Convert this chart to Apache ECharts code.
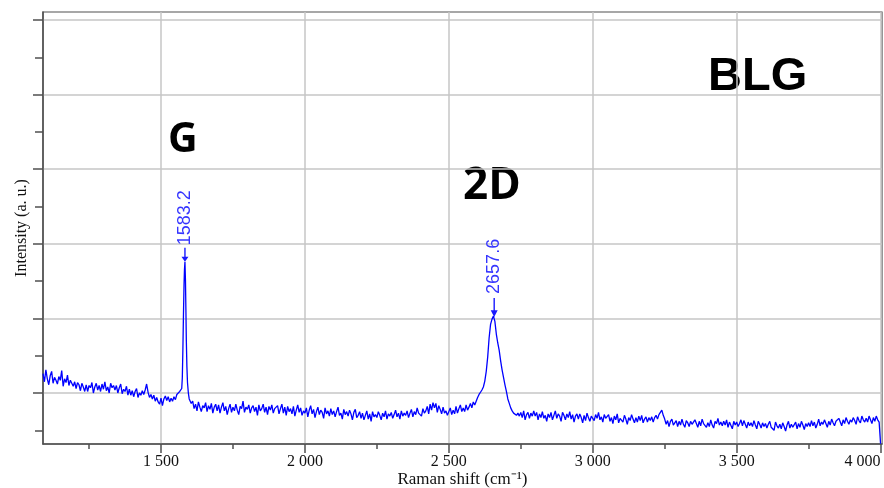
<!DOCTYPE html>
<html><head><meta charset="utf-8">
<script src="https://cdn.jsdelivr.net/npm/echarts@6/dist/echarts.min.js"></script>
<style>html,body{margin:0;padding:0;background:#fff}#c{width:884px;height:488px}</style>
</head><body><div id="c"></div>
<script>
// Axis ranges and ticks
const xMin = 1090, xMax = 4005;
const yMin = -68.4, yMax = 510.7;
const xMajorTicks = [1500, 2000, 2500, 3000, 3500, 4000];
const xMinorTicks = [1250, 1750, 2250, 2750, 3250, 3750];
const yMajorTicks = [0, 100, 200, 300, 400, 500];
const yMinorTicks = [-50, 50, 150, 250, 350, 450];

// Spectrum (Raman shift in cm-1, intensity in arbitrary units)
const stepShift = 5;
const leftStart = 1090; // 1090 .. 1570
const leftVals = [
  26, 15, 31, 19, 11, 23, 29, 13, 21, 17,
  12, 22, 17, 30, 9, 19, 14, 24, 10, 17,
  18, 9, 15, 6, 14, 11, 3, 13, 8, 2,
  11, 2, 10, 7, 14, 0, 8, 13, 4, 10,
  2, 12, 5, 15, 3, 8, 0, 13, 7, 10,
  4, 10, 0, 7, 12, -1, 5, 2, 9, -3,
  5, -3, 3, -5, 2, 6, -6, 0, -3, 3,
  -2, 4, 12, 1, -6, -2, -8, -3, -11, -6,
  -12, -15, -7, -17, -8, -4, -10, -5, -12, -7,
  -11, -5, -9, -2, -1, 2, 4
];
const gShift = [1572, 1574, 1576, 1578, 1580, 1581.5, 1583.2, 1585, 1586.5, 1588, 1590, 1592, 1595, 1598];
const gVals = [6, 20, 58, 105, 145, 165, 176, 150, 112, 70, 35, 14, 0, -8];
const midStart = 1600; // 1600 .. 2595
const midVals = [
  -9, -14, -11, -21, -15, -24, -12, -19, -25, -17,
  -20, -13, -25, -17, -22, -14, -27, -19, -15, -24,
  -16, -27, -19, -13, -24, -18, -29, -21, -15, -26,
  -19, -24, -15, -23, -29, -18, -21, -11, -26, -19,
  -22, -16, -27, -20, -17, -25, -19, -30, -16, -24,
  -21, -15, -26, -19, -29, -18, -23, -16, -27, -21,
  -23, -17, -28, -21, -15, -27, -19, -30, -18, -25,
  -21, -28, -18, -31, -23, -16, -26, -20, -30, -24,
  -27, -20, -32, -23, -17, -28, -22, -33, -25, -19,
  -29, -23, -26, -34, -20, -28, -24, -31, -21, -29,
  -24, -32, -25, -19, -30, -27, -35, -22, -29, -25,
  -31, -23, -28, -36, -26, -22, -33, -30, -25, -34,
  -27, -36, -30, -24, -35, -28, -38, -25, -32, -29,
  -33, -25, -30, -36, -27, -32, -24, -35, -28, -31,
  -26, -34, -29, -23, -32, -27, -35, -24, -31, -27,
  -30, -24, -33, -27, -22, -32, -25, -29, -20, -27,
  -26, -31, -21, -27, -24, -18, -28, -15, -23, -13,
  -20, -14, -26, -17, -22, -28, -19, -27, -24, -30,
  -25, -20, -29, -23, -28, -18, -27, -21, -16, -25,
  -20, -25, -16, -23, -19, -14, -20, -12, -16, -11
];
const dStart = 2600; // 2600 .. 2745
const dVals = [
  -6, -2, 1, 4, 8, 16, 29, 48, 74, 92,
  99, 103, 96, 79, 67, 57, 43, 31, 21, 11,
  2, -8, -14, -20, -24, -27, -25, -30, -27, -31
];
const rightStart = 2750; // 2750 .. 4000
const rightVals = [
  -26, -33, -24, -36, -29, -26, -34, -27, -31, -24,
  -31, -26, -36, -28, -33, -25, -34, -30, -38, -28,
  -33, -26, -36, -30, -24, -34, -28, -31, -38, -26,
  -30, -36, -28, -33, -25, -35, -29, -39, -31, -28,
  -35, -28, -33, -40, -30, -37, -27, -33, -38, -31,
  -30, -37, -29, -34, -26, -36, -32, -39, -29, -34,
  -36, -29, -38, -33, -41, -31, -36, -28, -40, -34,
  -32, -39, -30, -35, -42, -33, -37, -29, -35, -40,
  -33, -39, -31, -37, -30, -40, -35, -32, -39, -33,
  -37, -32, -39, -33, -30, -35, -29, -26, -23, -30,
  -35, -42, -37, -45, -38, -35, -43, -40, -37, -45,
  -38, -43, -35, -42, -46, -37, -40, -45, -38, -42,
  -43, -36, -41, -46, -38, -44, -35, -41, -40, -46,
  -40, -45, -36, -43, -47, -38, -41, -34, -43, -39,
  -44, -38, -43, -36, -46, -39, -41, -48, -38, -43,
  -39, -45, -41, -36, -44, -37, -42, -47, -39, -44,
  -40, -45, -37, -43, -48, -38, -42, -47, -40, -45,
  -41, -47, -42, -38, -46, -44, -50, -39, -44, -47,
  -42, -48, -40, -45, -51, -43, -38, -47, -42, -46,
  -45, -39, -48, -41, -46, -38, -43, -49, -41, -45,
  -40, -45, -37, -44, -39, -47, -42, -35, -44, -39,
  -42, -36, -41, -46, -38, -43, -35, -40, -44, -38,
  -40, -34, -39, -44, -36, -41, -33, -38, -42, -36,
  -39, -33, -37, -42, -32, -37, -40, -31, -36, -39,
  -34, -39, -31, -36, -41, -33, -38, -31, -36, -39,
  -68
];

// Peak annotations
const peakShift = [1583.2, 2657.6];
const peakTop = [176, 102];
const peakText = ['1583.2', '2657.6'];

// Build the series data
const spectrum = [];
leftVals.forEach((v, i) => spectrum.push([leftStart + i * stepShift, v]));
gVals.forEach((v, i) => spectrum.push([gShift[i], v]));
midVals.forEach((v, i) => spectrum.push([midStart + i * stepShift, v]));
dVals.forEach((v, i) => spectrum.push([dStart + i * stepShift, v]));
rightVals.forEach((v, i) => spectrum.push([rightStart + i * stepShift, v]));

const arrowPath = 'path://M4.3,0 L5.7,0 L5.7,13 L8.5,13 L5,20 L1.5,13 L4.3,13 Z';
const arrowSize = [[7, 14], [7, 19]];
const labelShift = [37, 41];

const chart = echarts.init(document.getElementById('c'), null, {renderer: 'canvas'});
const axisColor = '#505050';
const gridColor = '#c6c6c6';
const serif = '"Liberation Serif", "Times New Roman", serif';

chart.setOption({
  animation: false,
  backgroundColor: '#ffffff',
  grid: {left: 43, right: 2, top: 12, bottom: 44, show: true, borderColor: axisColor, borderWidth: 1.2,
    backgroundColor: 'transparent', containLabel: false, outerBoundsMode: 'none'},
  xAxis: [{
    type: 'value', min: xMin, max: xMax,
    axisLine: {show: true, onZero: false, lineStyle: {color: axisColor, width: 1.5}},
    axisTick: {show: true, customValues: xMajorTicks, length: 9, lineStyle: {color: axisColor, width: 1.5}},
    axisLabel: {show: true, customValues: xMajorTicks, margin: 10, color: '#111', fontFamily: serif, fontSize: 16,
      alignMaxLabel: 'right',
      formatter: v => { const s = String(Math.round(v)); return s.length > 3 ? s.slice(0, s.length - 3) + ' ' + s.slice(-3) : s; }},
    splitLine: {show: true, lineStyle: {color: gridColor, width: 1.5}},
    name: 'Raman shift (cm⁻¹)', nameLocation: 'middle', nameGap: 27, nameMoveOverlap: false,
    nameTextStyle: {color: '#111', fontFamily: serif, fontSize: 17}
  }, {
    type: 'value', min: xMin, max: xMax, position: 'bottom', gridIndex: 0,
    axisLine: {show: false, onZero: false},
    axisTick: {show: true, customValues: xMinorTicks, length: 5, lineStyle: {color: axisColor, width: 1.5}},
    axisLabel: {show: false}, splitLine: {show: false}
  }],
  yAxis: [{
    type: 'value', min: yMin, max: yMax,
    axisLine: {show: true, onZero: false, lineStyle: {color: axisColor, width: 1.5}},
    axisTick: {show: true, customValues: yMajorTicks, length: 10, lineStyle: {color: axisColor, width: 1.5}},
    axisLabel: {show: false},
    splitLine: {show: true, lineStyle: {color: gridColor, width: 1.5}},
    name: 'Intensity (a. u.)', nameLocation: 'middle', nameGap: 13, nameRotate: 90, nameMoveOverlap: false,
    nameTextStyle: {color: '#111', fontFamily: serif, fontSize: 16}
  }, {
    type: 'value', min: yMin, max: yMax, position: 'left', gridIndex: 0,
    axisLine: {show: false, onZero: false},
    axisTick: {show: true, customValues: yMinorTicks, length: 8, lineStyle: {color: axisColor, width: 1.5}},
    axisLabel: {show: false}, splitLine: {show: false}
  }],
  series: [{
    type: 'line', xAxisIndex: 0, yAxisIndex: 0,
    data: spectrum, showSymbol: false, symbol: 'none', sampling: null,
    lineStyle: {color: '#0000ff', width: 1.3}, itemStyle: {color: '#0000ff'},
    clip: true, silent: true,
    markPoint: {
      silent: true, animation: false,
      data: peakShift.map((s, i) => ({
        coord: [s, peakTop[i]],
        symbol: arrowPath, symbolSize: arrowSize[i], symbolOffset: [0, -arrowSize[i][1] / 2],
        itemStyle: {color: '#1a1aff'},
        label: {show: true, formatter: peakText[i], position: 'inside', rotate: 90, offset: [labelShift[i], 0],
          color: '#3535ff', fontFamily: '"Liberation Sans", Arial, sans-serif', fontSize: 18}
      }))
    }
  }],
  graphic: [
    {type: 'text', left: 708, top: 54, style: {text: 'BLG', fill: '#000', font: 'bold 47px "Liberation Sans", Arial, sans-serif'}},
    {type: 'text', left: 168, top: 120, style: {text: 'G', fill: '#000', font: 'bold 41px "Open Sans", "Noto Sans", sans-serif'}},
    {type: 'text', left: 463, top: 164, style: {text: '2D', fill: '#000', font: 'bold 44px "Open Sans", "Noto Sans", sans-serif'}}
  ]
});
</script>
</body></html>
